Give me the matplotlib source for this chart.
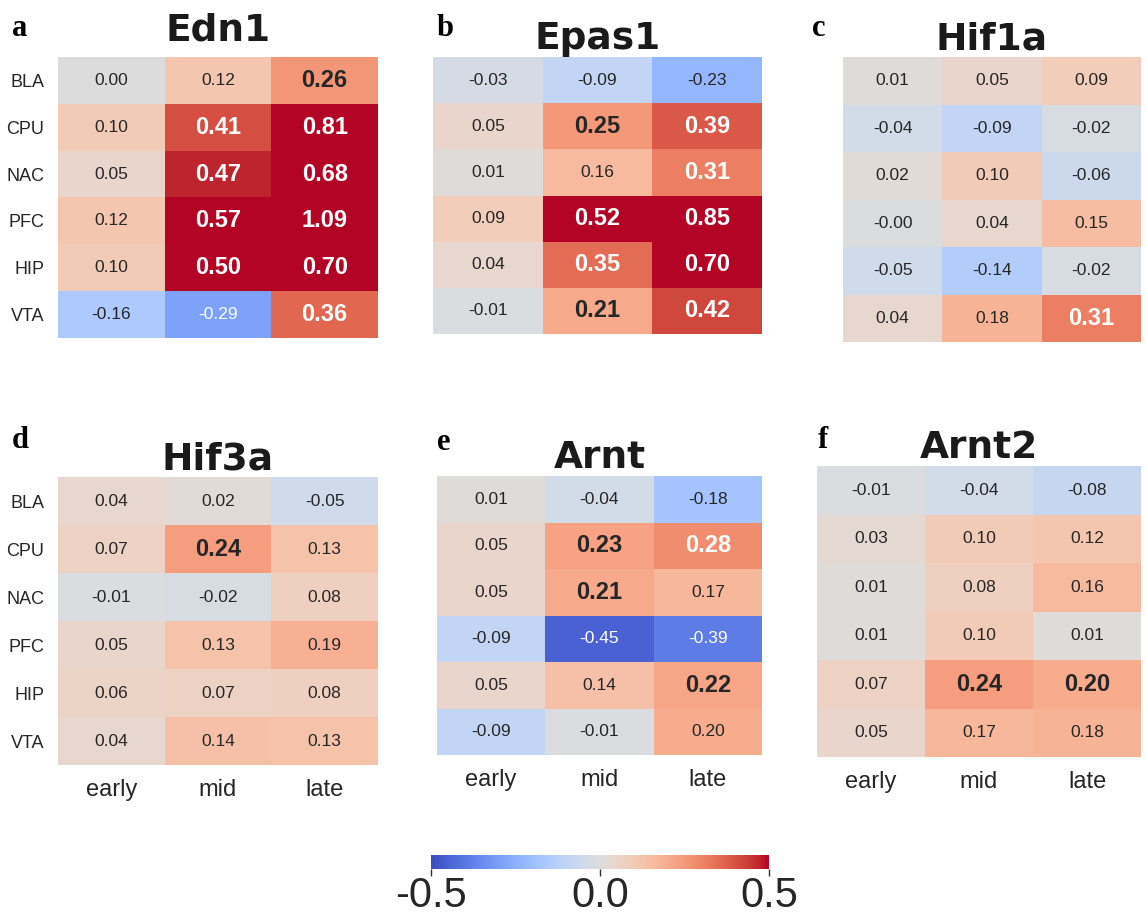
import numpy as np
import matplotlib
matplotlib.use("Agg")
import matplotlib.pyplot as plt
from matplotlib import cm, colors

plt.rcParams["axes.unicode_minus"] = False

regions = ["BLA", "CPU", "NAC", "PFC", "HIP", "VTA"]
stages = ["early", "mid", "late"]

genes = ["Edn1", "Epas1", "Hif1a", "Hif3a", "Arnt", "Arnt2"]
letters = ["a", "b", "c", "d", "e", "f"]

edn1 = [[0.00, 0.12, 0.26], [0.10, 0.41, 0.81], [0.05, 0.47, 0.68],
        [0.12, 0.57, 1.09], [0.10, 0.50, 0.70], [-0.16, -0.29, 0.36]]
edn1_sig = [[0, 0, 1], [0, 1, 1], [0, 1, 1], [0, 1, 1], [0, 1, 1], [0, 0, 1]]

epas1 = [[-0.03, -0.09, -0.23], [0.05, 0.25, 0.39], [0.01, 0.16, 0.31],
         [0.09, 0.52, 0.85], [0.04, 0.35, 0.70], [-0.01, 0.21, 0.42]]
epas1_sig = [[0, 0, 0], [0, 1, 1], [0, 0, 1], [0, 1, 1], [0, 1, 1], [0, 1, 1]]

hif1a = [[0.01, 0.05, 0.09], [-0.04, -0.09, -0.02], [0.02, 0.10, -0.06],
         [-0.004, 0.04, 0.15], [-0.05, -0.14, -0.02], [0.04, 0.18, 0.31]]
hif1a_sig = [[0, 0, 0], [0, 0, 0], [0, 0, 0], [0, 0, 0], [0, 0, 0], [0, 0, 1]]

hif3a = [[0.04, 0.02, -0.05], [0.07, 0.24, 0.13], [-0.01, -0.02, 0.08],
         [0.05, 0.13, 0.19], [0.06, 0.07, 0.08], [0.04, 0.14, 0.13]]
hif3a_sig = [[0, 0, 0], [0, 1, 0], [0, 0, 0], [0, 0, 0], [0, 0, 0], [0, 0, 0]]

arnt = [[0.01, -0.04, -0.18], [0.05, 0.23, 0.28], [0.05, 0.21, 0.17],
        [-0.09, -0.45, -0.39], [0.05, 0.14, 0.22], [-0.09, -0.01, 0.20]]
arnt_sig = [[0, 0, 0], [0, 1, 1], [0, 1, 0], [0, 0, 0], [0, 0, 1], [0, 0, 0]]

arnt2 = [[-0.01, -0.04, -0.08], [0.03, 0.10, 0.12], [0.01, 0.08, 0.16],
         [0.01, 0.10, 0.01], [0.07, 0.24, 0.20], [0.05, 0.17, 0.18]]
arnt2_sig = [[0, 0, 0], [0, 0, 0], [0, 0, 0], [0, 0, 0], [0, 1, 1], [0, 0, 0]]

values = [edn1, epas1, hif1a, hif3a, arnt, arnt2]
sigs = [edn1_sig, epas1_sig, hif1a_sig, hif3a_sig, arnt_sig, arnt2_sig]

W, H = 1146, 919
fig = plt.figure(figsize=(W / 100, H / 100), dpi=100)

# pixel boxes (left, top, right, bottom)
boxes = [(58, 57, 378, 338), (433, 57, 762, 334), (843, 57, 1141, 342),
         (58, 477, 378, 765), (437, 476, 762, 755), (817, 466, 1141, 757)]
title_pads = [12, 5, 5, 5, 6, 5]
letter_pos = [(12, 28), (437, 28), (812, 28), (12, 440), (437, 443), (818, 440)]

cmap = plt.get_cmap("coolwarm")
norm = colors.Normalize(vmin=-0.5, vmax=0.5)
cellfont = "Liberation Sans"

for i, (gene, vals, sig, box) in enumerate(zip(genes, values, sigs, boxes)):
    l, t, r, b = box
    ax = fig.add_axes([l / W, 1 - b / H, (r - l) / W, (b - t) / H])
    arr = np.array(vals)
    ax.pcolormesh(arr, cmap=cmap, norm=norm)
    ax.set_xlim(0, 3)
    ax.set_ylim(6, 0)
    for s in ax.spines.values():
        s.set_visible(False)
    ax.tick_params(length=0)
    ax.set_xticks(np.arange(3) + 0.5)
    ax.set_yticks(np.arange(6) + 0.5)
    if i % 3 == 0:
        ax.set_yticklabels(regions, fontsize=13, family=cellfont, color="#262626")
        ax.tick_params(axis="y", pad=10)
    else:
        ax.set_yticklabels([])
    if i >= 3:
        ax.set_xticklabels(stages, fontsize=17, family=cellfont, color="#262626")
        ax.tick_params(axis="x", pad=10)
    else:
        ax.set_xticklabels([])
    for rr in range(6):
        for cc in range(3):
            v = vals[rr][cc]
            bold = sig[rr][cc] == 1
            col = "white" if abs(v) >= 0.27 else "#262626"
            ax.text(cc + 0.5, rr + 0.5, f"{v:.2f}", ha="center", va="center",
                    fontsize=17 if bold else 12.5,
                    fontweight="bold" if bold else "normal",
                    color=col, family=cellfont)
    ax.set_title(gene, fontsize=27, fontweight="bold", family="DejaVu Sans",
                 color="#1a1a1a", pad=title_pads[i])
    lx, ly = letter_pos[i]
    fig.text(lx / W, 1 - ly / H, letters[i], fontsize=22, fontweight="bold",
             family="Liberation Serif", va="center", ha="left")

# colorbar
cax = fig.add_axes([431 / W, 1 - 869 / H, 338 / W, 14 / H])
cb = fig.colorbar(cm.ScalarMappable(norm=norm, cmap=cmap), cax=cax,
                  orientation="horizontal", ticks=[-0.5, 0.0, 0.5])
cb.outline.set_visible(False)
cax.tick_params(labelsize=30, length=5, width=1, colors="#333333", pad=0)
for lab in cax.get_xticklabels():
    lab.set_family(cellfont)
    lab.set_color("#262626")

fig.savefig("out.png", dpi=100)
